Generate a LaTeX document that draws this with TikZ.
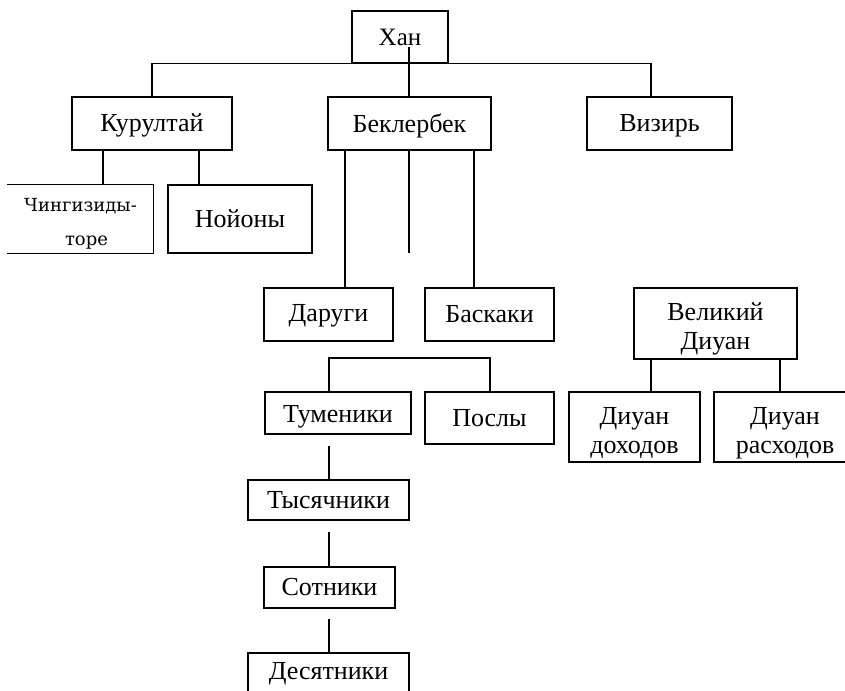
\documentclass[tikz,border=0pt]{standalone}
\usepackage{fontspec}
\setmainfont{Liberation Serif}
\newfontfamily\chfont{DejaVu Serif}
\newcommand{\lowered}[2]{\raisebox{-#1}[\height][\depth]{#2}}
\newcommand{\twolines}[3][6pt]{\lowered{#1}{\begin{tabular}{@{}c@{}}#2\\#3\end{tabular}}}
\begin{document}
\begin{tikzpicture}[x=1pt,y=-1pt,
  box/.style={draw, line width=1.4pt, rectangle, inner sep=0pt, align=center,
              font=\fontsize{26}{29}\selectfont},
  conn/.style={line width=1.4pt}]
\useasboundingbox (0,0) rectangle (845,690);
\clip (0,0) rectangle (845,690);

% level 1
\node[box, minimum width=96pt, minimum height=52pt, font=\fontsize{25}{29}\selectfont] (han) at (400,37) {Хан};
% level 2
\node[box, minimum width=160pt, minimum height=53pt] (kur) at (152,123.5) {\lowered{2pt}{Курултай}};
\node[box, minimum width=163pt, minimum height=53pt] (bek) at (409.5,123.5) {\lowered{2pt}{Беклербек}};
\node[box, minimum width=145pt, minimum height=53pt] (viz) at (659.5,123.5) {\lowered{2pt}{Визирь}};
% kurultai children
\node[box, draw=none, minimum width=145pt, minimum height=68pt, font=\chfont\fontsize{18}{34}\selectfont] (ching) at (80.5,219) {\twolines[3pt]{Чингизиды-}{\hspace*{12pt}торе}};
\node[box, minimum width=144pt, minimum height=68pt] (noy) at (240,219) {Нойоны};
% beklerbek children
\node[box, minimum width=129pt, minimum height=53pt] (dar) at (328.5,314.5) {\lowered{1pt}{Даруги}};
\node[box, minimum width=129pt, minimum height=53pt] (bas) at (489.5,314.5) {Баскаки};
% military
\node[box, minimum width=146pt, minimum height=42pt] (tum) at (338,413) {\lowered{4pt}{Туменики}};
\node[box, minimum width=129pt, minimum height=52pt] (pos) at (489.5,418) {Послы};
\node[box, minimum width=161pt, minimum height=40pt] (tys) at (328.5,500) {Тысячники};
\node[box, minimum width=131pt, minimum height=41pt] (sot) at (329.5,587.5) {Сотники};
\node[box, minimum width=161pt, minimum height=42pt] (des) at (328.5,674) {Десятники};
% divan
\node[box, minimum width=163pt, minimum height=71pt] (vel) at (715.5,323.5) {\twolines{Великий}{Диуан}};
\node[box, minimum width=131pt, minimum height=70pt] (dd) at (634.5,427) {\twolines{Диуан}{доходов}};
\node[box, minimum width=142pt, minimum height=70pt] (dr) at (785,427) {\twolines{Диуан}{расходов}};

% guide coordinates
\coordinate (hanin) at (409,47);
\coordinate (vizin) at (651,97);
\coordinate (xk1) at (103,0);
\coordinate (xk2) at (199,0);
\coordinate (xb1) at (345,0);
\coordinate (xb3) at (474,0);
\coordinate (bekend) at (409,253);
\coordinate (brL) at (329,358);
\coordinate (brR) at (490,358);
\coordinate (tumline) at (329,446);
\coordinate (c1) at (329,532);
\coordinate (c2) at (329,619);
\coordinate (xd1) at (651,0);
\coordinate (xd2) at (780,0);

% connectors
\draw[conn] (hanin) -- (hanin |- bek.north);
\draw[conn] (kur.north) |- (han.south) -| (vizin);
\draw[conn] (ching.north west) -- (ching.north east) -- (ching.south east) -- (ching.south west);
\draw[conn] (kur.south -| xk1) -- (ching.north -| xk1);
\draw[conn] (kur.south -| xk2) -- (noy.north -| xk2);
\draw[conn] (bek.south -| xb1) -- (dar.north -| xb1);
\draw[conn] (bek.south -| bekend) -- (bekend);
\draw[conn] (bek.south -| xb3) -- (bas.north -| xb3);
\draw[conn] (tum.north -| brL) -- (brL) -- (brR) -- (pos.north -| brR);
\draw[conn] (tumline) -- (tys.north -| tumline);
\draw[conn] (c1) -- (sot.north -| c1);
\draw[conn] (c2) -- (des.north -| c2);
\draw[conn] (vel.south -| xd1) -- (dd.north -| xd1);
\draw[conn] (vel.south -| xd2) -- (dr.north -| xd2);
\end{tikzpicture}
\end{document}
